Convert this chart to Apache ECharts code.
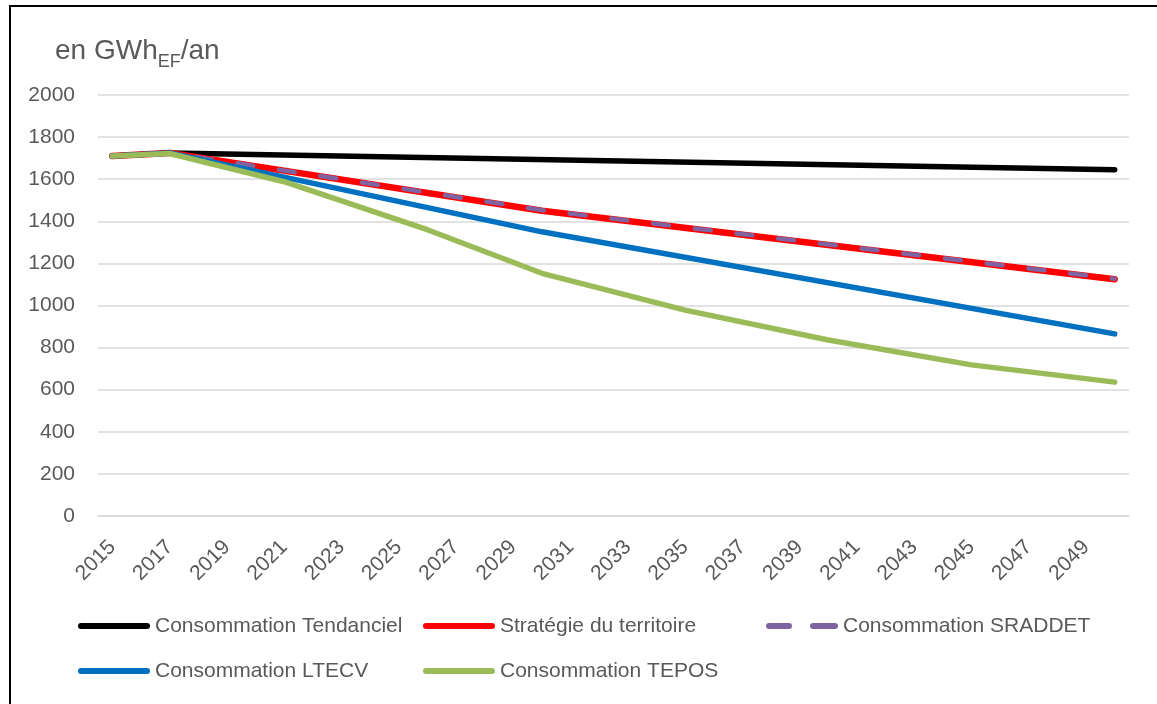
<!DOCTYPE html>
<html>
<head>
<meta charset="utf-8">
<script src="https://cdn.jsdelivr.net/npm/echarts@6/dist/echarts.min.js"></script>
<style>
html,body{margin:0;padding:0;background:#fff;}
#chart{width:1157px;height:704px;}
</style>
</head>
<body>
<div id="chart"></div>
<script>
// Categories: years 2015..2050
var years = ['2015','2016','2017','2018','2019','2020','2021','2022','2023','2024','2025','2026','2027','2028','2029','2030','2031','2032','2033','2034','2035','2036','2037','2038','2039','2040','2041','2042','2043','2044','2045','2046','2047','2048','2049','2050'];

// Series values (null = no point read at that year; line connects known points)
var tendanciel = [1710,null,1725,null,null,null,null,null,null,null,null,null,null,null,null,null,null,null,null,null,null,null,null,null,null,null,null,null,null,null,null,null,null,null,null,1645];
var strategie  = [1710,null,1725,null,null,null,null,null,null,null,null,null,null,null,null,1450,null,null,null,null,null,null,null,null,null,null,null,null,null,null,null,null,null,null,null,1125];
var sraddet    = [1710,null,1725,null,null,null,null,null,null,null,null,null,null,null,null,1453,null,null,null,null,null,null,null,null,null,null,null,null,null,null,null,null,null,null,null,1127];
var ltecv      = [1710,null,1725,null,null,null,null,null,null,null,null,null,null,null,null,1350,null,null,null,null,null,null,null,null,null,null,null,null,null,null,null,null,null,null,null,865];
var tepos      = [1710,null,1722,null,null,null,1588,null,null,null,null,1360,null,null,null,1153,null,null,null,null,978,null,null,null,null,836,null,null,null,null,718,null,null,null,null,636];

var seriesNames = ['Consommation Tendanciel','Stratégie du territoire','Consommation SRADDET','Consommation LTECV','Consommation TEPOS'];

var FONT = 'Liberation Sans, Arial, sans-serif';
var TXT = '#595959';

var SOLID_ICON = 'path://M3,0H69A3,3 0 0 1 69,6H3A3,3 0 0 1 3,0Z';
var DASH_ICON = 'path://M3,0H23A3,3 0 0 1 23,6H3A3,3 0 0 1 3,0Z M47,0H69A3,3 0 0 1 69,6H47A3,3 0 0 1 47,0Z';

var chart = echarts.init(document.getElementById('chart'));

function lineSeries(name, data, color, width, dash) {
  return {
    name: name,
    type: 'line',
    data: data,
    connectNulls: true,
    symbol: 'none',
    smooth: false,
    lineStyle: { color: color, width: width, type: dash || 'solid', cap: 'round', join: 'round' },
    itemStyle: { color: color }
  };
}

var legendBase = {
  orient: 'vertical',
  top: 614,
  padding: 0,
  itemWidth: 72,
  itemHeight: 6,
  itemGap: 21,
  textStyle: { color: TXT, fontSize: 21, fontFamily: FONT, lineHeight: 24 }
};

chart.setOption({
  animation: false,
  backgroundColor: '#ffffff',
  title: {
    text: '{a|en GWh}{b|EF}{a|/an}',
    left: 55,
    top: 35,
    padding: 0,
    textStyle: {
      rich: {
        a: { fontSize: 28, fontFamily: FONT, fontWeight: 'normal', color: TXT, lineHeight: 32 },
        b: { fontSize: 18, fontFamily: FONT, fontWeight: 'normal', color: TXT, lineHeight: 18, padding: [22, 0, 0, 0] }
      }
    }
  },
  graphic: [{
    type: 'rect',
    shape: { x: 10, y: 6, width: 1300, height: 900 },
    style: { fill: null, stroke: '#000', lineWidth: 2 },
    silent: true
  }],
  legend: [
    Object.assign({}, legendBase, { left: 78, data: [
      { name: seriesNames[0], icon: SOLID_ICON },
      { name: seriesNames[3], icon: SOLID_ICON }] }),
    Object.assign({}, legendBase, { left: 423, data: [
      { name: seriesNames[1], icon: SOLID_ICON },
      { name: seriesNames[4], icon: SOLID_ICON }] }),
    Object.assign({}, legendBase, { left: 766, data: [
      { name: seriesNames[2], icon: DASH_ICON }] })
  ],
  grid: { left: 98, right: 28, top: 95, bottom: 188, containLabel: false, outerBoundsMode: 'none' },
  xAxis: {
    type: 'category',
    data: years,
    boundaryGap: true,
    axisLine: { show: true, lineStyle: { color: '#d9d9d9', width: 1.5 } },
    axisTick: { show: false },
    axisLabel: { interval: 1, rotate: 45, margin: 28, color: TXT, fontSize: 21, fontFamily: FONT },
    splitLine: { show: false }
  },
  yAxis: {
    type: 'value',
    min: 0,
    max: 2000,
    interval: 200,
    axisLine: { show: false },
    axisTick: { show: false },
    axisLabel: { margin: 23, color: TXT, fontSize: 21, fontFamily: FONT, formatter: function (v) { return String(v); } },
    splitLine: { show: true, lineStyle: { color: '#d9d9d9', width: 1.5 } }
  },
  series: [
    lineSeries(seriesNames[0], tendanciel, '#000000', 5.5),
    lineSeries(seriesNames[1], strategie, '#ff0000', 6.5),
    lineSeries(seriesNames[2], sraddet, '#8064a2', 4.5, [16, 26]),
    lineSeries(seriesNames[3], ltecv, '#0070c0', 5.5),
    lineSeries(seriesNames[4], tepos, '#9bbb59', 5.5)
  ]
});
</script>
</body>
</html>
